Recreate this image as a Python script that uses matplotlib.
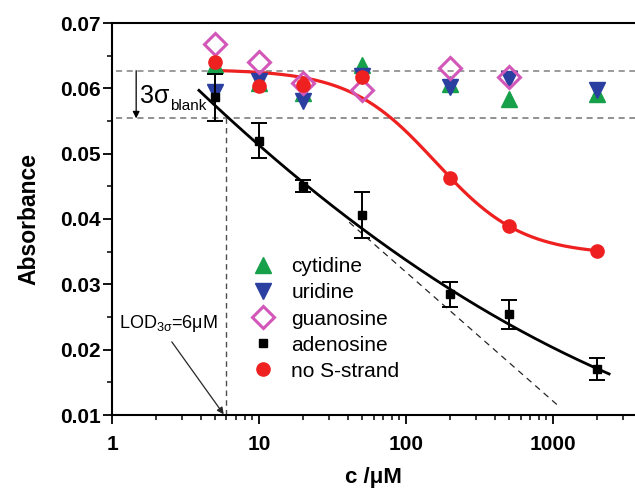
import matplotlib
matplotlib.use("Agg")
import matplotlib.pyplot as plt
import numpy as np

plt.rcParams["font.family"] = ["Liberation Sans", "DejaVu Sans"]
plt.rcParams["mathtext.fontset"] = "custom"
plt.rcParams["mathtext.rm"] = "Liberation Sans"
plt.rcParams["mathtext.it"] = "Liberation Sans"
plt.rcParams["mathtext.bf"] = "Liberation Sans:bold"

# ── Data ─────────────────────────────────────────────────────────────────────
conc = [5, 10, 20, 50, 200, 500, 2000]

cytidine  = [0.0635, 0.0608, 0.0593, 0.0636, 0.0606, 0.0584, 0.0592]
uridine   = [0.0594, 0.0611, 0.0580, 0.0619, 0.0602, 0.0615, 0.0598]
guan_conc = [5, 10, 20, 50, 200, 500]
guanosine = [0.0668, 0.0640, 0.0608, 0.0598, 0.0631, 0.0618]
adenosine = [0.0586, 0.0520, 0.0451, 0.0406, 0.0285, 0.0254, 0.0170]
aden_err  = [0.0036, 0.0027, 0.0009, 0.0035, 0.0019, 0.0022, 0.0017]
no_strand = [0.0641, 0.0603, 0.0605, 0.0618, 0.0463, 0.0389, 0.0351]

# fit lines: logistic for no S-strand, quadratic in log10(c) for adenosine
red_top, red_bottom, red_x0, red_p = 0.0629, 0.0345, 159.0, 1.48
red_range = (5, 2000)
black_poly = [0.00209, -0.02386, 0.07306]
black_range = (3.9, 2400)

# linear-range guide line (dashed)
lin_x = [41, 1110]
lin_y = [0.0395, 0.0112]

blank_hi, blank_lo = 0.0627, 0.0554
lod = 6.0

# ── Figure ───────────────────────────────────────────────────────────────────
fig = plt.figure(figsize=(6.35, 4.9), dpi=100)
ax = fig.add_axes([112 / 635, 75 / 490, 523 / 635, 392 / 490])
ax.set_xscale("log")
ax.set_xlim(1, 3600)
ax.set_ylim(0.01, 0.07)

# blank band and LOD guides
ax.plot([1.06, 3600], [blank_hi] * 2, ls=(0, (4, 3)), color="0.5", lw=1.1)
ax.plot([1.06, 3600], [blank_lo] * 2, ls=(0, (4, 3)), color="0.45", lw=1.1)
ax.plot([lod, lod], [0.01, blank_lo], ls=(0, (4, 3)), color="0.3", lw=1.0)
ax.plot(lin_x, lin_y, ls=(0, (5, 4)), color="0.15", lw=0.9)

# fit curves
xr = np.logspace(np.log10(red_range[0]), np.log10(red_range[1]), 200)
ax.plot(xr, red_bottom + (red_top - red_bottom) / (1 + (xr / red_x0) ** red_p),
        color="#ee2020", lw=2.3, zorder=3)
xb = np.logspace(np.log10(black_range[0]), np.log10(black_range[1]), 200)
ax.plot(xb, np.polyval(black_poly, np.log10(xb)), color="black", lw=2.0, zorder=3)

# data
ax.plot(conc, cytidine, "^", color="#16a04a", ms=11, ls="none", label="cytidine", zorder=4)
ax.plot(conc, uridine, "v", color="#2a3fa0", ms=11, ls="none", label="uridine", zorder=4)
ax.plot(guan_conc, guanosine, "D", mfc="none", mec="#d257b8", mew=2.2, ms=11,
        ls="none", label="guanosine", zorder=4)
ax.errorbar(conc, adenosine, yerr=aden_err, fmt="none", ecolor="black",
            elinewidth=1.4, capsize=6, capthick=1.4, zorder=5)
ax.plot(conc, adenosine, "s", color="black", ms=6, ls="none", label="adenosine", zorder=5)
ax.plot(conc, no_strand, "o", color="#ee2020", ms=9.5, ls="none",
        label="no S-strand", zorder=6)

# annotations
ax.annotate("", xy=(1.46, blank_lo), xytext=(1.46, blank_hi),
            arrowprops=dict(arrowstyle="-|>", color="black", lw=0.9,
                            mutation_scale=10, shrinkA=0, shrinkB=0))
t_sig = ax.text(1.55, 0.0577, "3σ", fontsize=18, va="baseline")
ax.annotate("blank", xy=(1.0, 0.0), xycoords=t_sig, xytext=(0.5, -1.5),
            textcoords="offset points", fontsize=11, va="baseline")
ax.text(1.11, 0.0240, r"LOD$_{3\sigma}$=6$\mu$M", fontsize=13, va="center")
ax.annotate("", xy=(5.75, 0.0101), xytext=(2.55, 0.0212),
            arrowprops=dict(arrowstyle="-|>", color="0.15", lw=0.9,
                            mutation_scale=10, shrinkA=0, shrinkB=0))

# axes styling
for side in ["left", "bottom", "top"]:
    ax.spines[side].set_linewidth(1.5)
ax.spines["right"].set_visible(False)
ax.set_yticks(np.arange(0.01, 0.0701, 0.01))
ax.set_yticks(np.arange(0.015, 0.07, 0.01), minor=True)
ax.set_yticklabels([f"{v:.2f}" for v in np.arange(0.01, 0.0701, 0.01)])
ax.set_xticks([1, 10, 100, 1000])
ax.set_xticklabels(["1", "10", "100", "1000"])
ax.tick_params(which="major", direction="out", length=6.5, width=1.3, labelsize=15)
ax.tick_params(which="minor", direction="out", length=3.5, width=1.1)
ax.tick_params(axis="x", which="major", pad=8)
ax.tick_params(axis="y", which="major", pad=1.5)
ax.tick_params(axis="x", which="both", top=False)
for lab in ax.get_xticklabels() + ax.get_yticklabels():
    lab.set_fontweight("bold")

ax.set_xlabel("c /μM", fontsize=16, fontweight="bold", labelpad=9)
ax.set_ylabel("Absorbance", fontsize=16.5, fontweight="bold", labelpad=14)

ax.legend(loc="upper left", bbox_to_anchor=(0.269, 0.402), frameon=False,
          fontsize=15, handlelength=1.0, handletextpad=0.85, labelspacing=0.34,
          borderpad=0, borderaxespad=0)

fig.savefig("out.png", dpi=100)
